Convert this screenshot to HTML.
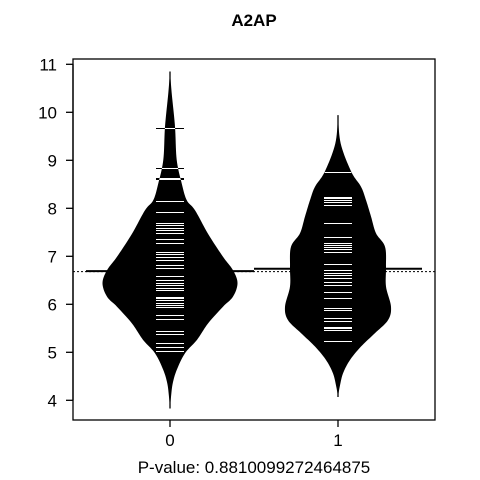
<!DOCTYPE html>
<html><head><meta charset="utf-8"><style>
html,body{margin:0;padding:0;background:#fff;}
svg{display:block;font-family:"Liberation Sans",Arial,sans-serif;}
</style></head><body>
<svg id="chart" width="480" height="480" viewBox="0 0 480 480">
<text x="254" y="26" text-anchor="middle" font-size="17" font-weight="bold">A2AP</text>
<text x="254" y="473" text-anchor="middle" font-size="17">P-value: 0.8810099272464875</text>
<g id="plot"></g>
<rect x="73" y="59" width="362" height="361" fill="none" stroke="#000" stroke-width="1.3"/>
</svg>
<script>
const categories = ["0","1"];
const yTicks = [4,5,6,7,8,9,10,11];
// density profiles: value and relative half-width
const dens0Val = [10.85,10.40,9.70,9.01,8.52,8.17,7.96,7.47,6.99,6.71,6.44,6.16,5.95,5.60,5.26,4.98,4.63,4.35,4.07,3.83];
const dens0W   = [0,1.7,5,6.7,11.7,16.7,25,38,53,63,67.5,63,53,38,27,15,6.7,2.7,1,0];
const dens1Val = [9.94,9.35,8.76,8.45,8.17,7.83,7.48,7.20,6.78,6.37,5.95,5.67,5.40,5.12,4.84,4.56,4.28,4.07];
const dens1W   = [0,2.7,13.3,23,28,33,38,47,48,48,53,50,37,23,12,5,1.7,0];
const rug0 = [9.67,8.83,8.63,8.62,8.16,7.93,7.70,7.65,7.58,7.55,7.48,7.37,7.28,7.08,7.04,6.98,6.92,6.82,6.75,6.59,6.51,6.44,6.40,6.33,6.30,6.16,6.125,6.09,6.02,5.99,5.95,5.78,5.69,5.45,5.38,5.19,5.12,5.03];
const rug1 = [8.76,8.24,8.21,8.17,8.14,8.07,7.69,7.40,7.27,7.24,7.20,7.15,7.10,6.83,6.71,6.66,6.61,6.54,6.47,6.40,6.26,6.125,5.92,5.88,5.71,5.65,5.53,5.50,5.46,5.24];
const means = [6.69,6.74];
const overallMean = 6.68;

const NS="http://www.w3.org/2000/svg";
const plot=document.getElementById('plot');
const y=v=>64.3+(11-v)*48;
const x=i=>170+i*168;
function mk(t,a){const e=document.createElementNS(NS,t);for(const k in a)e.setAttribute(k,a[k]);return e;}

const yAxis=mk('line',{x1:73,y1:y(11),x2:73,y2:y(4),stroke:'#000','stroke-width':1.3});


plot.appendChild(yAxis);
yTicks.forEach(t=>{
  const l=mk('line',{x1:66,y1:y(t),x2:73,y2:y(t),stroke:'#000','stroke-width':1.3});
  
  
  plot.appendChild(l);
  const tx=mk('text',{x:57,y:y(t)+6,'text-anchor':'end','font-size':17});
  
  
  tx.textContent=t;plot.appendChild(tx);
});
categories.forEach((c,i)=>{
  const l=mk('line',{x1:x(i),y1:420,x2:x(i),y2:427,stroke:'#000','stroke-width':1.3});
  
  
  plot.appendChild(l);
  const tx=mk('text',{x:x(i),y:446,'text-anchor':'middle','font-size':17});
  
  
  tx.textContent=c;plot.appendChild(tx);
});

const om=mk('line',{x1:73,y1:y(overallMean),x2:435,y2:y(overallMean),stroke:'#000','stroke-width':1,'stroke-dasharray':'2,2'});


plot.appendChild(om);

// Catmull-Rom smoothing of (value,width) profile
function smooth(vals,ws){
  const pts=[];const n=vals.length;
  for(let k=0;k<n-1;k++){
    const p0=k>0?k-1:k, p3=k+2<n?k+2:k+1;
    for(let s=0;s<10;s++){
      const t=s/10,t2=t*t,t3=t2*t;
      const cr=(a,b,c,d)=>0.5*((2*b)+(-a+c)*t+(2*a-5*b+4*c-d)*t2+(-a+3*b-3*c+d)*t3);
      pts.push([cr(vals[p0],vals[k],vals[k+1],vals[p3]),Math.max(0,cr(ws[p0],ws[k],ws[k+1],ws[p3]))]);
    }
  }
  pts.push([vals[n-1],ws[n-1]]);
  return pts;
}

const beans=[[dens0Val,dens0W,rug0],[dens1Val,dens1W,rug1]];
beans.forEach((b,i)=>{
  const [vals,ws,rug]=b;const cx=x(i);
  const pts=smooth(vals,ws);
  let d='M'+cx+','+y(pts[0][0]);
  pts.forEach(p=>{d+=' L'+(cx+p[1]).toFixed(2)+','+y(p[0]).toFixed(2);});
  for(let k=pts.length-1;k>=0;k--)d+=' L'+(cx-pts[k][1]).toFixed(2)+','+y(pts[k][0]).toFixed(2);
  d+='Z';
  const p=mk('path',{d:d,fill:'#000'});
  
  
  plot.appendChild(p);
  const vl=mk('line',{x1:cx,y1:y(vals[0]),x2:cx,y2:y(vals[vals.length-1]),stroke:'#000','stroke-width':1.3});
  
  
  plot.appendChild(vl);
  const cp=mk('clipPath',{id:'clip'+i});
  cp.appendChild(mk('path',{d:d}));
  plot.appendChild(cp);
  const g=mk('g',{'shape-rendering':'crispEdges'});
  
  
  const gw=mk('g',{'clip-path':'url(#clip'+i+')'});
  rug.forEach(v=>{
    const yy=Math.round(y(v))+0.5;
    const bl=mk('line',{x1:cx-14,y1:yy,x2:cx+14,y2:yy,stroke:'#000','stroke-width':1});
    
    
    g.appendChild(bl);
    const wl=mk('line',{x1:cx-14,y1:yy,x2:cx+14,y2:yy,stroke:'#fff','stroke-width':1});
    
    
    gw.appendChild(wl);
  });
  g.appendChild(gw);
  plot.appendChild(g);
  const ml=mk('line',{x1:cx-84,y1:y(means[i]),x2:cx+84,y2:y(means[i]),stroke:'#000','stroke-width':2});
  
  
  plot.appendChild(ml);
});
</script>
</body></html>
